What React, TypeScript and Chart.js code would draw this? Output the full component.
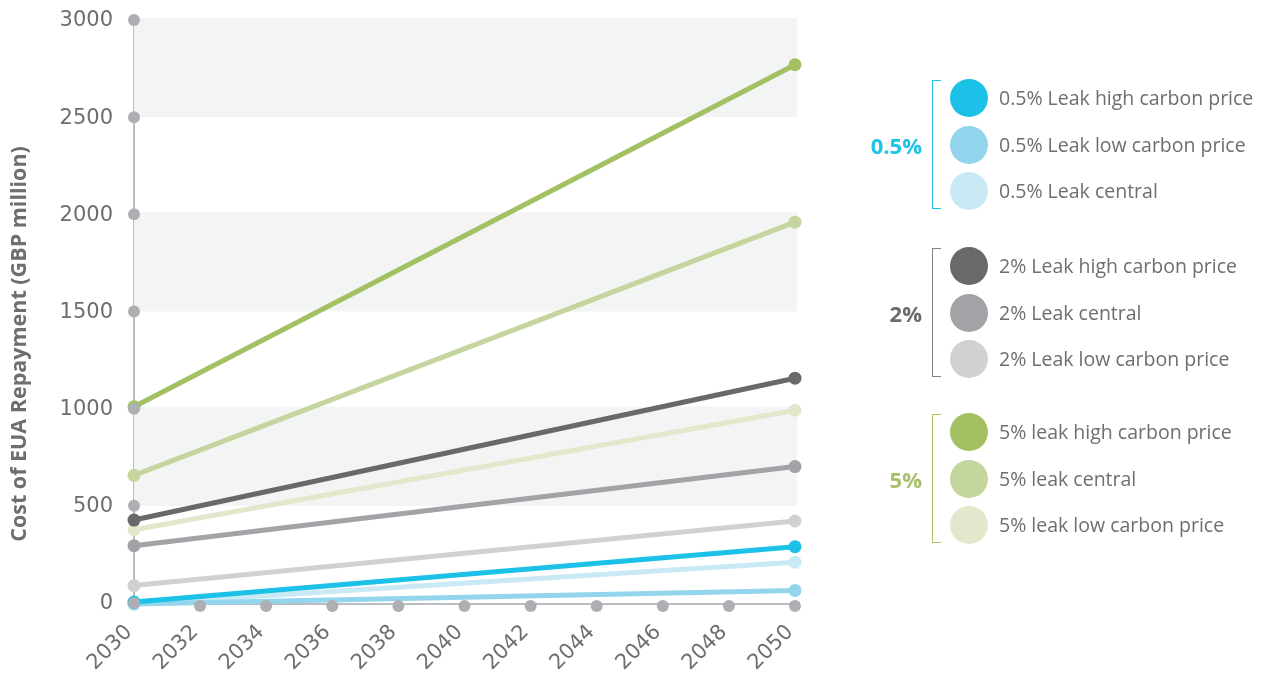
import React, { useEffect, useRef } from "react";
import { Chart, registerables } from "chart.js";

Chart.register(...registerables);

// ---------- data ----------
const years = [2030, 2050];
const xTickValues = [2030, 2032, 2034, 2036, 2038, 2040, 2042, 2044, 2046, 2048, 2050];
const yTickValues = [0, 500, 1000, 1500, 2000, 2500, 3000];
const bandRanges = [
  [2500, 3000],
  [1500, 2000],
  [500, 1000],
];

const leak05High = [10, 295];
const leak05Low = [0, 70];
const leak05Central = [0, 215];
const leak2High = [432, 1162];
const leak2Central = [300, 707];
const leak2Low = [95, 427];
const leak5High = [1015, 2775];
const leak5Central = [662, 1965];
const leak5Low = [382, 997];

const groupLabels = ["0.5%", "2%", "5%"];
const groupColors = ["#1ec3e6", "#6b6c6e", "#a6c16a"];
const bracketColors = ["#1ec3e6", "#808184", "#a6c16a"];

const seriesNames = [
  ["0.5% Leak high carbon price", "0.5% Leak low carbon price", "0.5% Leak central"],
  ["2% Leak high carbon price", "2% Leak central", "2% Leak low carbon price"],
  ["5% leak high carbon price", "5% leak central", "5% leak low carbon price"],
];
const seriesValues = [
  [leak05High, leak05Low, leak05Central],
  [leak2High, leak2Central, leak2Low],
  [leak5High, leak5Central, leak5Low],
];
const seriesColors = [
  ["#1bc1e6", "#93d5ed", "#c9e9f5"],
  ["#68696b", "#a2a3a6", "#d0d1d3"],
  ["#a3c163", "#c5d59e", "#e1e8cb"],
];

const yTitle = "Cost of EUA Repayment (GBP million)";

// ---------- styles ----------
const FONT = "'Open Sans', sans-serif";
const TICKFONT = "'DejaVu Sans', sans-serif";
const TEXT = "#6d6e71";
const AXIS = "#bcbdc0";
const DOT = "#aeafb3";
const BAND = "#f3f5f4";

const bandsPlugin = {
  id: "bands",
  beforeDatasetsDraw(chart: any) {
    const { ctx, chartArea, scales } = chart;
    ctx.save();
    ctx.fillStyle = BAND;
    for (const [lo, hi] of bandRanges) {
      const yTop = scales.y.getPixelForValue(hi);
      const yBot = scales.y.getPixelForValue(lo);
      ctx.fillRect(chartArea.left, yTop - 3, chartArea.right - chartArea.left + 2, yBot - yTop + 2);
    }
    ctx.restore();
  },
};

const dotsPlugin = {
  id: "axisDots",
  afterDatasetsDraw(chart: any) {
    const { ctx, scales } = chart;
    ctx.save();
    ctx.fillStyle = DOT;
    const xl = scales.x.getPixelForValue(2030);
    for (const v of yTickValues) {
      const y = scales.y.getPixelForValue(v);
      ctx.beginPath();
      ctx.arc(xl, y - 1, 6, 0, Math.PI * 2);
      ctx.fill();
    }
    const yb = scales.y.getPixelForValue(0) + 2;
    for (const v of xTickValues) {
      if (v === 2030) continue;
      const x = scales.x.getPixelForValue(v);
      ctx.beginPath();
      ctx.arc(x, yb, 6, 0, Math.PI * 2);
      ctx.fill();
    }
    ctx.restore();
  },
  afterDraw(chart: any) {
    const { ctx } = chart;
    ctx.save();
    ctx.translate(20, 344);
    ctx.rotate(-Math.PI / 2);
    ctx.fillStyle = TEXT;
    ctx.font = `bold 21.5px ${FONT}`;
    ctx.textAlign = "center";
    ctx.textBaseline = "middle";
    ctx.fillText(yTitle, 0, 0);
    ctx.restore();
  },
};

export default function App() {
  const ref = useRef<HTMLCanvasElement | null>(null);

  useEffect(() => {
    document.body.style.margin = "0";
    if (!ref.current) return;
    const datasets: any[] = [];
    seriesNames.forEach((grp, g) =>
      grp.forEach((name, i) => {
        const vals = seriesValues[g][i];
        datasets.push({
          label: name,
          data: years.map((x, k) => ({ x, y: vals[k] })),
          borderColor: seriesColors[g][i],
          backgroundColor: seriesColors[g][i],
          borderWidth: 5,
          pointRadius: 6.5,
          pointHoverRadius: 6.5,
          pointBorderWidth: 0,
          tension: 0,
          clip: false,
        });
      })
    );
    const chart = new Chart(ref.current, {
      type: "line",
      data: { datasets },
      options: {
        animation: false,
        responsive: false,
        maintainAspectRatio: false,
        layout: { padding: { top: 21, right: 468, left: 0, bottom: 0 } },
        plugins: { legend: { display: false }, tooltip: { enabled: false } },
        scales: {
          x: {
            type: "linear",
            min: 2030,
            max: 2050,
            afterBuildTicks: (s: any) => {
              s.ticks = xTickValues.map((v) => ({ value: v }));
            },
            afterFit: (s: any) => {
              s.height = 73;
              s.paddingLeft = 0;
              s.paddingRight = 0;
            },
            grid: { display: false, drawTicks: false },
            border: { display: true, color: AXIS, width: 2 },
            ticks: {
              minRotation: 45,
              maxRotation: 45,
              padding: 16,
              labelOffset: -5,
              color: TEXT,
              font: { family: TICKFONT, size: 21 },
              callback: (v: any) => String(v),
            },
          },
          y: {
            min: 0,
            max: 3000,
            afterBuildTicks: (s: any) => {
              s.ticks = yTickValues.map((v) => ({ value: v }));
            },
            afterFit: (s: any) => {
              s.width = 134;
              s.paddingTop = 0;
              s.paddingBottom = 0;
            },
            grid: { display: false, drawTicks: false },
            border: { display: true, color: AXIS, width: 2 },
            ticks: {
              padding: 21,
              color: TEXT,
              font: { family: TICKFONT, size: 21 },
              callback: (v: any) => String(v),
            },
          },
        },
      },
      plugins: [bandsPlugin, dotsPlugin],
    });
    return () => chart.destroy();
  }, []);

  const groupStarts = [98, 266, 432];
  const rowGap = 46.7;

  return (
    <div style={{ position: "absolute", left: 0, top: 0, width: 1263, height: 677, fontFamily: FONT }}>
      <canvas ref={ref} width={1263} height={677} style={{ position: "absolute", left: 0, top: 0, width: 1263, height: 677 }} />
      {groupLabels.map((gl, g) => {
        const y0 = groupStarts[g];
        const yMid = y0 + rowGap;
        return (
          <React.Fragment key={gl}>
            <div
              style={{
                position: "absolute",
                left: 932,
                top: y0 - 18,
                width: 9,
                height: rowGap * 2 + 36,
                borderLeft: `1.5px solid ${bracketColors[g]}`,
                borderTop: `1.5px solid ${bracketColors[g]}`,
                borderBottom: `1.5px solid ${bracketColors[g]}`,
                boxSizing: "border-box",
              }}
            />
            <div
              style={{
                position: "absolute",
                right: 1263 - 922,
                top: yMid - 15,
                height: 30,
                lineHeight: "30px",
                fontSize: 22,
                fontWeight: 700,
                color: groupColors[g],
              }}
            >
              {gl}
            </div>
            {seriesNames[g].map((name, i) => {
              const y = y0 + i * rowGap;
              return (
                <React.Fragment key={name}>
                  <div
                    style={{
                      position: "absolute",
                      left: 950,
                      top: y - 19,
                      width: 38,
                      height: 38,
                      borderRadius: "50%",
                      background: seriesColors[g][i],
                    }}
                  />
                  <div
                    style={{
                      position: "absolute",
                      left: 999,
                      top: y - 14,
                      height: 28,
                      lineHeight: "28px",
                      fontSize: 19.5,
                      color: TEXT,
                      whiteSpace: "nowrap",
                    }}
                  >
                    {name}
                  </div>
                </React.Fragment>
              );
            })}
          </React.Fragment>
        );
      })}
    </div>
  );
}
